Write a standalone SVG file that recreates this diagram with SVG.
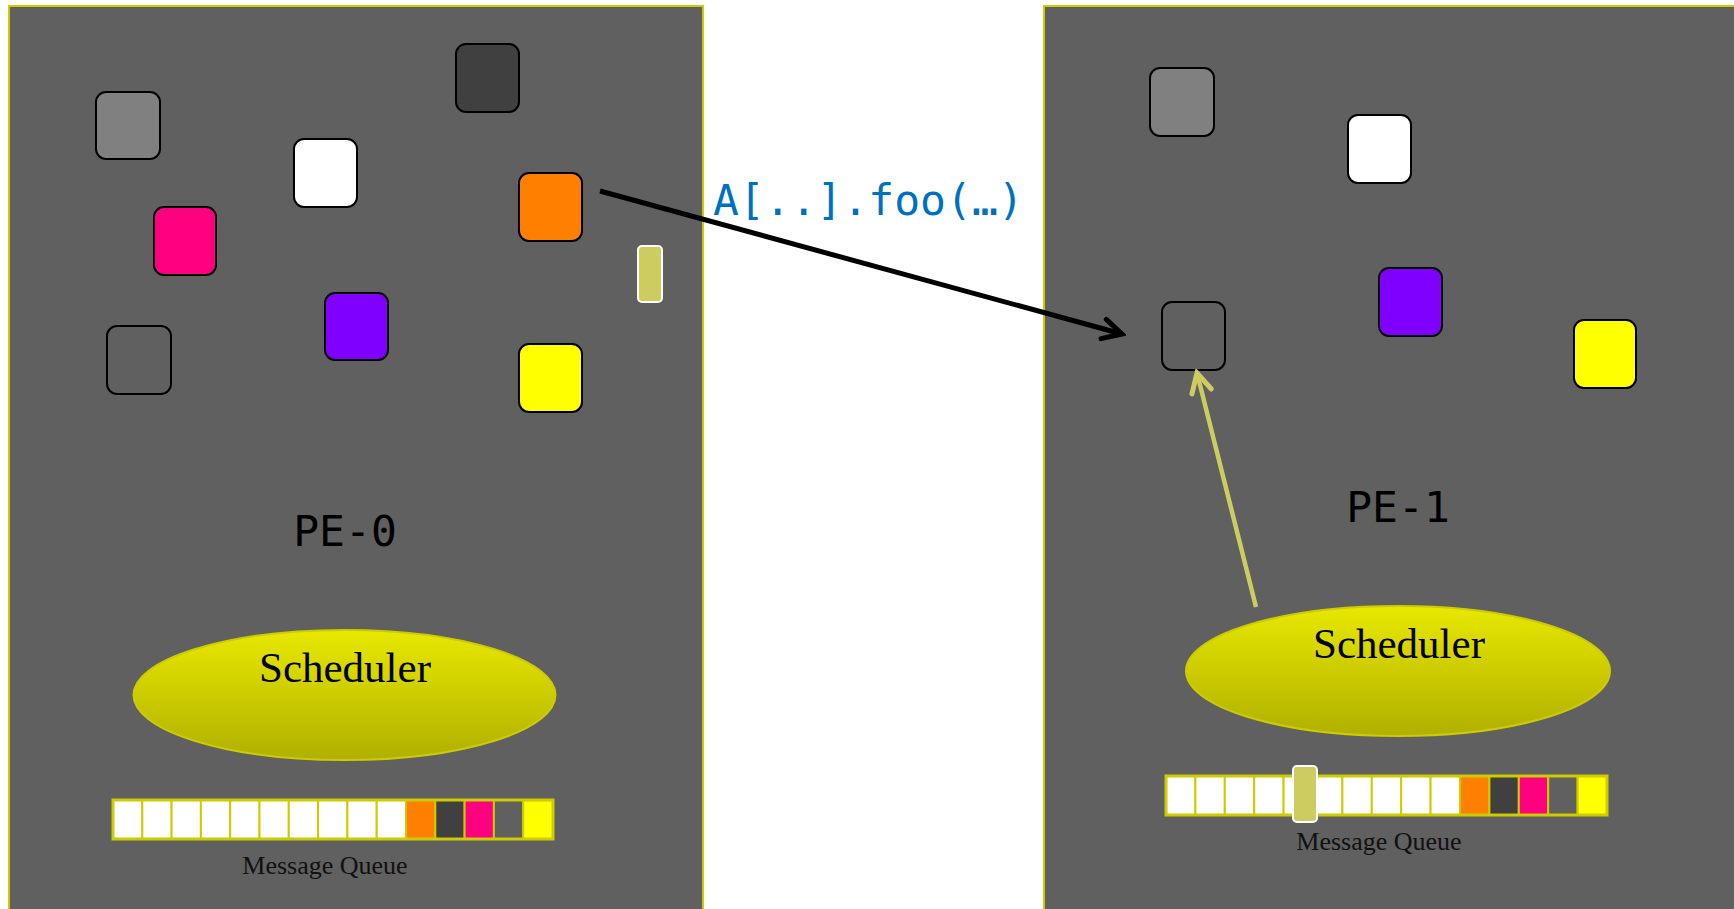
<svg xmlns="http://www.w3.org/2000/svg" width="1734" height="909" viewBox="0 0 1734 909">
<style>
.panel{fill:#606060;stroke:#cccc00;stroke-width:2}
.obj{stroke:#000;stroke-width:2}
.pe{font-family:"DejaVu Sans Mono","Liberation Mono",monospace;font-size:43px;fill:#000}
.sched{font-family:"Liberation Serif","Times New Roman",serif;font-size:43px;fill:#000}
.mq{font-family:"Liberation Serif","Times New Roman",serif;font-size:26px;fill:#111}
.cell{stroke:#cccc00;stroke-width:2}
.qout{fill:none;stroke:#cccc00;stroke-width:3}
.label{font-family:"DejaVu Sans Mono","Liberation Mono",monospace;font-size:43px;fill:#0070c0}
</style>
<defs>
<linearGradient id="g" x1="0" y1="0" x2="0" y2="1">
<stop offset="0" stop-color="#e8e800"/>
<stop offset="1" stop-color="#b0b000"/>
</linearGradient>
<marker id="ab" markerUnits="userSpaceOnUse" viewBox="0 0 26 26" refX="22" refY="13" markerWidth="26" markerHeight="26" orient="auto">
<path d="M3,3 L22,13 L3,23" fill="none" stroke="#000" stroke-width="5" stroke-linecap="round" stroke-linejoin="miter"/>
</marker>
<marker id="ak" markerUnits="userSpaceOnUse" viewBox="0 0 26 26" refX="22" refY="13" markerWidth="26" markerHeight="26" orient="auto">
<path d="M3,3 L22,13 L3,23" fill="none" stroke="#cccc60" stroke-width="5" stroke-linecap="round"/>
</marker>
</defs>
<rect width="1734" height="909" fill="#fff"/>

<g id="pe0">
<rect class="panel" x="9" y="6" width="694" height="920"/>
<rect id="pe0-gray" class="obj" x="96" y="92" width="64" height="67" rx="10" fill="#808080"/>
<rect id="pe0-dark" class="obj" x="456" y="44" width="63" height="68" rx="10" fill="#404040"/>
<rect id="pe0-white" class="obj" x="294" y="139" width="63" height="68" rx="10" fill="#ffffff"/>
<rect id="pe0-orange" class="obj" x="519" y="173" width="63" height="68" rx="10" fill="#ff8000"/>
<rect id="pe0-pink" class="obj" x="154" y="207" width="62" height="68" rx="10" fill="#ff0080"/>
<rect id="pe0-msg" x="638" y="246" width="24" height="56" rx="4" fill="#cccc60" stroke="#fff" stroke-width="2"/>
<rect id="pe0-mid" class="obj" x="107" y="326" width="64" height="68" rx="10" fill="#606060"/>
<rect id="pe0-purple" class="obj" x="325" y="293" width="63" height="67" rx="10" fill="#8000ff"/>
<rect id="pe0-yellow" class="obj" x="519" y="344" width="63" height="68" rx="10" fill="#ffff00"/>
<text class="pe" x="345" y="546" text-anchor="middle">PE-0</text>
<g id="pe0-scheduler">
<ellipse cx="344.5" cy="695" rx="211" ry="65" fill="url(#g)" stroke="#cccc00" stroke-width="2"/>
<text class="sched" x="345" y="682" text-anchor="middle">Scheduler</text>
</g>
<g id="pe0-queue">
<rect class="cell" x="113" y="800" width="29.3" height="39" fill="#fff"/>
<rect class="cell" x="142.3" y="800" width="29.3" height="39" fill="#fff"/>
<rect class="cell" x="171.6" y="800" width="29.3" height="39" fill="#fff"/>
<rect class="cell" x="200.9" y="800" width="29.3" height="39" fill="#fff"/>
<rect class="cell" x="230.2" y="800" width="29.3" height="39" fill="#fff"/>
<rect class="cell" x="259.5" y="800" width="29.3" height="39" fill="#fff"/>
<rect class="cell" x="288.8" y="800" width="29.3" height="39" fill="#fff"/>
<rect class="cell" x="318.1" y="800" width="29.3" height="39" fill="#fff"/>
<rect class="cell" x="347.4" y="800" width="29.3" height="39" fill="#fff"/>
<rect class="cell" x="376.7" y="800" width="29.3" height="39" fill="#fff"/>
<rect class="cell" x="406" y="800" width="29.3" height="39" fill="#ff8000"/>
<rect class="cell" x="435.3" y="800" width="29.3" height="39" fill="#404040"/>
<rect class="cell" x="464.6" y="800" width="29.3" height="39" fill="#ff0080"/>
<rect class="cell" x="493.9" y="800" width="29.3" height="39" fill="#606060"/>
<rect class="cell" x="523.2" y="800" width="29.8" height="39" fill="#ffff00"/>
<rect class="qout" x="113" y="800" width="440" height="39"/>
<text class="mq" x="325" y="874" text-anchor="middle">Message Queue</text>
</g>
</g>

<g id="pe1">
<rect class="panel" x="1044" y="6" width="700" height="920"/>
<rect id="pe1-gray" class="obj" x="1150" y="68" width="64" height="68" rx="10" fill="#808080"/>
<rect id="pe1-white" class="obj" x="1348" y="115" width="63" height="68" rx="10" fill="#ffffff"/>
<rect id="pe1-target" class="obj" x="1162" y="302" width="63" height="68" rx="10" fill="#606060"/>
<rect id="pe1-purple" class="obj" x="1379" y="268" width="63" height="68" rx="10" fill="#8000ff"/>
<rect id="pe1-yellow" class="obj" x="1574" y="320" width="62" height="68" rx="10" fill="#ffff00"/>
<text class="pe" x="1398" y="522" text-anchor="middle">PE-1</text>
<g id="pe1-scheduler">
<ellipse cx="1398" cy="671" rx="212" ry="65" fill="url(#g)" stroke="#cccc00" stroke-width="2"/>
<text class="sched" x="1399" y="658" text-anchor="middle">Scheduler</text>
</g>
<g id="pe1-queue">
<rect class="cell" x="1166" y="776" width="29.4" height="39" fill="#fff"/>
<rect class="cell" x="1195.4" y="776" width="29.4" height="39" fill="#fff"/>
<rect class="cell" x="1224.8" y="776" width="29.4" height="39" fill="#fff"/>
<rect class="cell" x="1254.2" y="776" width="29.4" height="39" fill="#fff"/>
<rect class="cell" x="1283.6" y="776" width="29.4" height="39" fill="#fff"/>
<rect class="cell" x="1313" y="776" width="29.4" height="39" fill="#fff"/>
<rect class="cell" x="1342.4" y="776" width="29.4" height="39" fill="#fff"/>
<rect class="cell" x="1371.8" y="776" width="29.4" height="39" fill="#fff"/>
<rect class="cell" x="1401.2" y="776" width="29.4" height="39" fill="#fff"/>
<rect class="cell" x="1430.6" y="776" width="29.4" height="39" fill="#fff"/>
<rect class="cell" x="1460" y="776" width="29.4" height="39" fill="#ff8000"/>
<rect class="cell" x="1489.4" y="776" width="29.4" height="39" fill="#404040"/>
<rect class="cell" x="1518.8" y="776" width="29.4" height="39" fill="#ff0080"/>
<rect class="cell" x="1548.2" y="776" width="29.4" height="39" fill="#606060"/>
<rect class="cell" x="1577.6" y="776" width="29.4" height="39" fill="#ffff00"/>
<rect class="qout" x="1166" y="776" width="441" height="39"/>
<rect id="pe1-msg" x="1293" y="766" width="24" height="56" rx="4" fill="#cccc60" stroke="#fff" stroke-width="2"/>
<text class="mq" x="1379" y="850" text-anchor="middle">Message Queue</text>
</g>
</g>

<g id="connectors">
<line x1="600" y1="191" x2="1122" y2="334" stroke="#000" stroke-width="5" marker-end="url(#ab)"/>
<line x1="1256" y1="607" x2="1197" y2="373" stroke="#cccc60" stroke-width="4.5" marker-end="url(#ak)"/>
<text class="label" x="713" y="215">A[..].foo(…)</text>
</g>
</svg>
